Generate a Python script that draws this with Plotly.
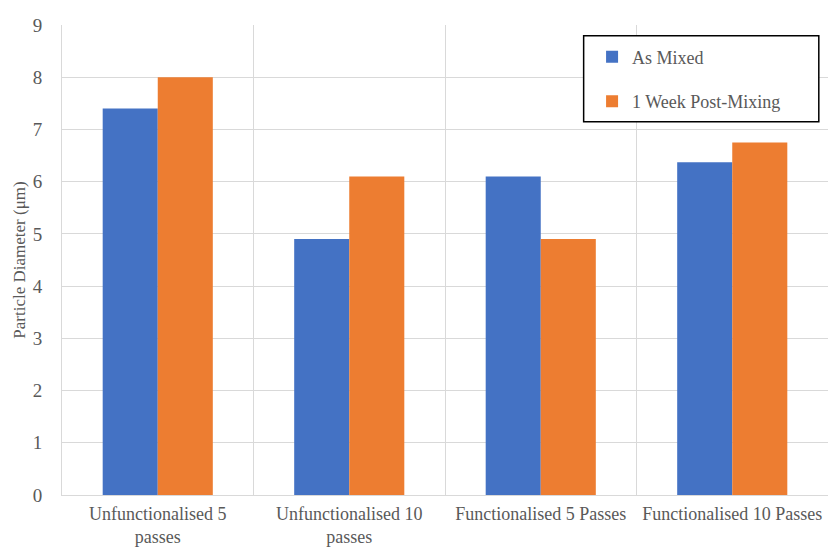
import plotly.graph_objects as go

categories = ["Unfunctionalised 5<br>passes", "Unfunctionalised 10<br>passes",
              "Functionalised 5 Passes", "Functionalised 10 Passes"]
as_mixed = [7.4, 4.9, 6.1, 6.37]
week_post = [8.0, 6.1, 4.9, 6.75]
series_names = ["As Mixed", "1 Week Post-Mixing"]
colors = ["#4472C4", "#ED7D31"]

font_family = "Liberation Serif, Times New Roman, serif"
gray = "#595959"

fig = go.Figure()
fig.add_trace(go.Bar(x=categories, y=as_mixed, name=series_names[0],
                     marker=dict(color=colors[0], line=dict(width=0)),
                     legendgroup="a"))
fig.add_trace(go.Bar(x=categories, y=week_post, name=series_names[1],
                     marker=dict(color=colors[1], line=dict(width=0)),
                     legendgroup="b"))

fig.update_layout(
    width=829, height=549,
    margin=dict(l=62, r=1, t=25, b=54),
    paper_bgcolor="white", plot_bgcolor="white",
    barmode="group", bargap=0.425, bargroupgap=0,
    font=dict(family=font_family, color=gray, size=18),
    showlegend=True,
    legend=dict(x=0.692, y=0.971, xanchor="left", yanchor="top",
                bgcolor="rgba(0,0,0,0)", borderwidth=0,
                font=dict(family=font_family, size=18, color=gray),
                traceorder="grouped", tracegroupgap=18),
    shapes=[dict(type="rect", xref="paper", yref="paper",
                 x0=0.681, x1=0.988, y0=0.794, y1=0.977,
                 line=dict(color="black", width=1.5), fillcolor="white",
                 layer="above")],
)
fig.update_xaxes(
    type="category", tickson="boundaries", showgrid=True,
    gridcolor="#d9d9d9", gridwidth=1, ticks="", automargin=False,
    showline=True, linecolor="#d9d9d9", linewidth=1,
    ticklabelstandoff=2,
    tickfont=dict(family=font_family, size=18, color=gray),
)
fig.update_yaxes(
    range=[0, 9], dtick=1, showgrid=True, gridcolor="#d9d9d9", gridwidth=1,
    showline=True, linecolor="#d9d9d9", linewidth=1, ticks="", automargin=False,
    ticklabelstandoff=15, zeroline=False,
    tickfont=dict(family=font_family, size=19, color=gray),
    title=dict(text="Particle Diameter (μm)", standoff=2,
               font=dict(family=font_family, size=17, color=gray)),
)
fig.write_html("out.html")
